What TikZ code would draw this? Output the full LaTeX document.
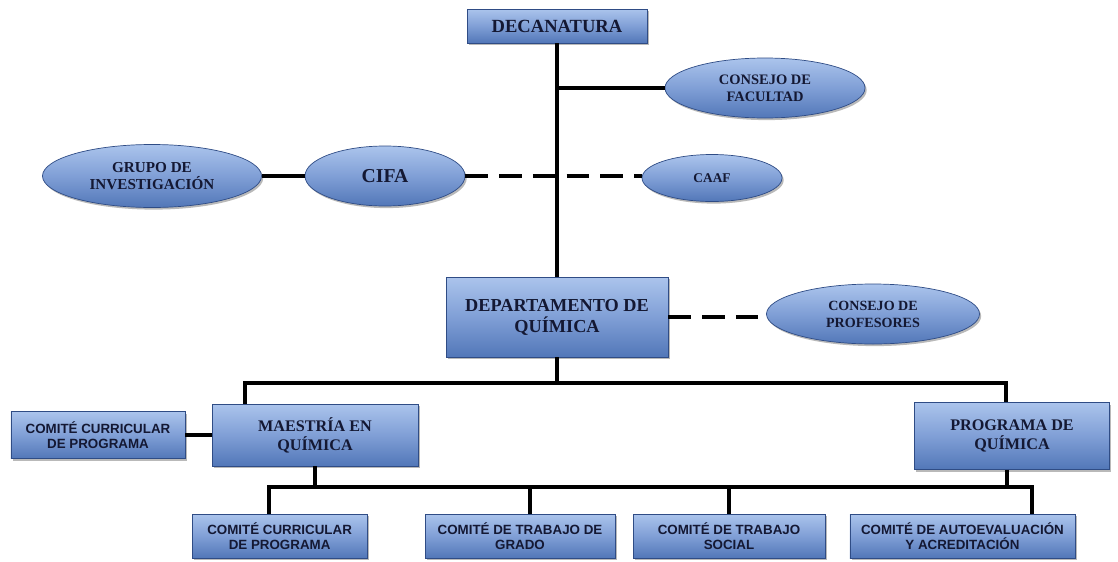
\documentclass[tikz,border=0pt]{standalone}
\usepackage{fontspec}
\setmainfont{Liberation Serif}
\setsansfont{Liberation Sans}
\usetikzlibrary{shapes.geometric,shadows}

\definecolor{boxlight}{HTML}{ABC4EC}
\definecolor{boxmid}{HTML}{809FD6}
\definecolor{boxdark}{HTML}{5277B8}
\definecolor{boxline}{HTML}{2F4C85}
\definecolor{boxtext}{HTML}{141833}

\begin{document}
\begin{tikzpicture}[
  unit/.style={draw=boxline, line width=0.5pt, top color=boxlight, bottom color=boxdark,
    middle color=boxmid, drop shadow={shadow xshift=1.2pt, shadow yshift=-1.5pt, fill=black!55},
    text=boxtext, align=center, inner sep=2pt},
  box/.style={unit, rectangle, font=\rmfamily\bfseries},
  comite/.style={unit, rectangle, font=\sffamily\bfseries\fontsize{9.5}{11}\selectfont},
  council/.style={unit, ellipse, font=\rmfamily\bfseries},
  link/.style={black, line width=2.2pt},
  dlink/.style={link, dash pattern=on 16pt off 8pt}]

\useasboundingbox (0,0) rectangle (27.95,-14.025);

\node[box, minimum width=4.5cm, minimum height=0.85cm, font=\rmfamily\bfseries\fontsize{13.2}{15}\selectfont] (deca) at (13.925,-0.65) {DECANATURA};
\node[council, minimum width=5cm, minimum height=1.5cm, font=\rmfamily\bfseries\fontsize{10.3}{12}\selectfont] (cfac) at (19.125,-2.2) {CONSEJO DE\\FACULTAD};

\node[council, minimum width=5.475cm, minimum height=1.575cm, font=\rmfamily\bfseries\fontsize{10.8}{12.5}\selectfont] (grupo) at (3.8,-4.4) {GRUPO DE\\INVESTIGACIÓN};
\node[council, minimum width=4cm, minimum height=1.5cm, font=\rmfamily\bfseries\fontsize{14}{16}\selectfont] (cifa) at (9.625,-4.4) {CIFA};
\node[council, minimum width=3.5cm, minimum height=1.175cm, font=\rmfamily\bfseries\fontsize{9.5}{11}\selectfont] (caaf) at (17.8,-4.45) {CAAF};

\node[box, minimum width=5.55cm, minimum height=2cm, font=\rmfamily\bfseries\fontsize{13}{15}\selectfont] (dept) at (13.925,-7.925) {DEPARTAMENTO DE\\QUÍMICA};
\node[council, minimum width=5.325cm, minimum height=1.5cm, font=\rmfamily\bfseries\fontsize{10}{12}\selectfont] (cprof) at (21.825,-7.85) {CONSEJO DE\\PROFESORES};

\node[box, minimum width=5.15cm, minimum height=1.55cm, font=\rmfamily\bfseries\fontsize{11.5}{13.5}\selectfont] (maes) at (7.875,-10.875) {MAESTRÍA EN\\QUÍMICA};
\node[comite, minimum width=4.35cm, minimum height=1.175cm] (ccur) at (2.45,-10.875) {COMITÉ CURRICULAR\\DE PROGRAMA};
\node[box, minimum width=4.875cm, minimum height=1.675cm, font=\rmfamily\bfseries\fontsize{11.5}{13.5}\selectfont] (prog) at (25.3,-10.9) {PROGRAMA DE\\QUÍMICA};

\node[comite, minimum width=4.375cm, minimum height=1.1cm] (ccur2) at (6.99,-13.4) {COMITÉ CURRICULAR\\DE PROGRAMA};
\node[comite, minimum width=4.75cm, minimum height=1.1cm] (ctg) at (13,-13.4) {COMITÉ DE TRABAJO DE\\GRADO};
\node[comite, minimum width=4.8cm, minimum height=1.1cm] (cts) at (18.225,-13.4) {COMITÉ DE TRABAJO\\SOCIAL};
\node[comite, minimum width=5.625cm, minimum height=1.1cm] (cae) at (24.06,-13.4) {COMITÉ DE AUTOEVALUACIÓN\\Y ACREDITACIÓN};

\coordinate (b1) at (13.925,-9.575);
\coordinate (b2) at (7.875,-12.175);

% upper part
\draw[link] (deca.south) -- (dept.north);
\draw[link] (deca.south |- cfac.west) -- (cfac.west);
\draw[link] (grupo.east) -- (cifa.west);
\draw[dlink] (cifa.east) -- (cifa.east -| caaf.west);
\draw[dlink] (dept.east) -- (dept.east -| cprof.west);

% lower part
\draw[link] (dept.south) -- (b1);
\draw[link] ([xshift=-1.75cm]maes.north) |- (b1) -| ([xshift=-0.15cm]prog.north);
\draw[link] (ccur.east) -- (maes.west);
\draw[link] (maes.south) -- (b2);
\draw[link] ([xshift=-0.125cm]prog.south) -- ([xshift=-0.125cm]prog.south |- b2);
\draw[link] ([xshift=-0.265cm]ccur2.north) |- ([xshift=1.74cm]cae.north |- b2) -- ([xshift=1.74cm]cae.north);
\draw[link] ([xshift=0.25cm]ctg.north) -- ([xshift=0.25cm]ctg.north |- b2);
\draw[link] (cts.north) -- (cts.north |- b2);

\end{tikzpicture}
\end{document}
